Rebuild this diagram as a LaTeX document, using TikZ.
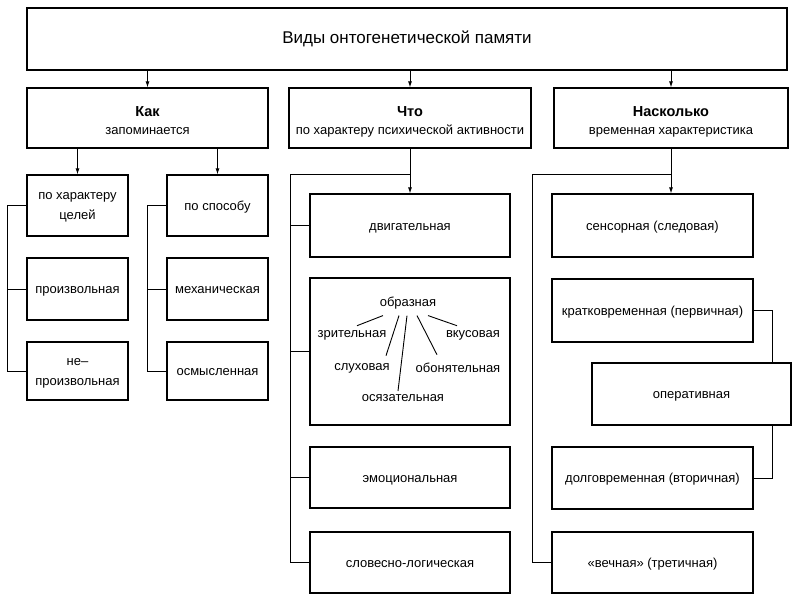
\documentclass[tikz,border=0pt]{standalone}
\usepackage{fontspec}
\setmainfont{Liberation Sans}
\usetikzlibrary{arrows.meta}
\newcommand{\ttlfont}{\fontsize{17}{20}\selectfont}
\newcommand{\hdfont}{\fontsize{14.5}{17}\selectfont\bfseries}
\newcommand{\up}[1]{\rule{0pt}{#1}}
\newcommand{\dn}{\rule[-3pt]{0pt}{3pt}}
\begin{document}
\begin{tikzpicture}[x=1pt, y=-1pt, line width=0.9pt,
    every node/.style={font=\fontsize{13}{16}\selectfont, inner sep=2pt},
    box/.style={draw, line width=1.2pt, align=center, inner sep=0pt},
    tbox/.style={box, text height=12pt, text depth=3pt},
    arr/.style={-{Latex[length=6pt,width=4pt]}}]
    \useasboundingbox (0,0) rectangle (800,600);

% top row
    \node[tbox, minimum width=760pt, minimum height=62pt] (vidy) at (407,39) {\ttlfont Виды онтогенетической памяти};
    \node[box, minimum width=241pt, minimum height=60pt] (kak) at (147.5,118) {{\hdfont\up{18pt}Как}\\[2pt]запоминается\dn};
    \node[box, minimum width=242pt, minimum height=60pt] (chto) at (410,118) {{\hdfont\up{18pt}Что}\\[2pt]по характеру психической активности\dn};
    \node[box, minimum width=234pt, minimum height=60pt] (nask) at (671,118) {{\hdfont\up{18pt}Насколько}\\[2pt]временная характеристика\dn};

    \draw[arr] (vidy.south -| kak.north) -- (kak.north);
    \draw[arr] (vidy.south -| chto.north) -- (chto.north);
    \draw[arr] (vidy.south -| nask.north) -- (nask.north);

% first column
    \coordinate (kL) at (7,205);
    \coordinate (sL) at (147,205);

    \node[box, minimum width=101pt, minimum height=61pt] (celi) at (77.5,205.5) {по характеру\up{11pt}\\[4pt]целей\dn};
    \node[tbox, minimum width=101pt, minimum height=62pt] (proizv) at (77.5,289) {произвольная};
    \node[box, minimum width=101pt, minimum height=58pt] (neproizv) at (77.5,371) {не–\up{11pt}\\[4pt]произвольная\dn};

    \node[tbox, minimum width=101pt, minimum height=61pt] (sposob) at (217.5,205.5) {по способу};
    \node[tbox, minimum width=101pt, minimum height=62pt] (mekh) at (217.5,289) {механическая};
    \node[tbox, minimum width=101pt, minimum height=58pt] (osmysl) at (217.5,371) {осмысленная};

    \draw[arr] (kak.south -| celi.north) -- (celi.north);
    \draw[arr] (kak.south -| sposob.north) -- (sposob.north);

    \draw (celi.west) -- (celi.west -| kL) |- (neproizv.west);
    \draw (proizv.west) -- (proizv.west -| kL);
    \draw (sposob.west) -- (sposob.west -| sL) |- (osmysl.west);
    \draw (mekh.west) -- (mekh.west -| sL);

% second column
    \coordinate (mL) at (290,174);

    \node[tbox, minimum width=200pt, minimum height=63pt] (dvig) at (410,225.5) {двигательная};
    \node[box, minimum width=200pt, minimum height=147pt] (obraz) at (410,351.5) {};
    \node[tbox, minimum width=200pt, minimum height=61pt] (emoc) at (410,477.5) {эмоциональная};
    \node[tbox, minimum width=200pt, minimum height=61pt] (slov) at (410,562.5) {словесно-логическая};

    \draw[arr] (chto.south -| dvig.north) -- (dvig.north);
    \draw (dvig.north |- mL) -- (mL) |- (slov.west);
    \draw (mL |- dvig.west) -- (dvig.west);
    \draw (mL |- obraz.west) -- (obraz.west);
    \draw (mL |- emoc.west) -- (emoc.west);

    \node (obrazn) at (408,303) {образная};
    \node (zrit) at (352,335) {зрительная};
    \node (vkus) at (473,335) {вкусовая};
    \node (sluh) at (362,368) {слуховая};
    \node (obon) at (458,368) {обонятельная};
    \node (osyaz) at (403,398) {осязательная};

    \draw ([xshift=-25pt,yshift=-4pt]obrazn.south) -- ([xshift=5pt,yshift=2pt]zrit.north);
    \draw ([xshift=-9pt,yshift=-4pt]obrazn.south) -- ([xshift=24pt,yshift=5pt]sluh.north);
    \draw ([xshift=-1pt,yshift=-4pt]obrazn.south) -- ([xshift=-5pt,yshift=1pt]osyaz.north);
    \draw ([xshift=9pt,yshift=-4pt]obrazn.south) -- ([xshift=-21pt,yshift=6pt]obon.north);
    \draw ([xshift=20pt,yshift=-4pt]obrazn.south) -- ([xshift=-16pt,yshift=2pt]vkus.north);

% third column
    \coordinate (rL) at (532,174);
    \coordinate (rR) at (772,310);

    \node[tbox, minimum width=201pt, minimum height=63pt] (sens) at (652.5,225.5) {сенсорная (следовая)};
    \node[tbox, minimum width=201pt, minimum height=63pt] (krat) at (652.5,310.5) {кратковременная (первичная)};
    \node[tbox, minimum width=199pt, minimum height=62pt] (oper) at (691.5,394) {оперативная};
    \node[tbox, minimum width=201pt, minimum height=62pt] (dolg) at (652.5,478) {долговременная (вторичная)};
    \node[tbox, minimum width=201pt, minimum height=61pt] (vech) at (652.5,562.5) {«вечная» (третичная)};

    \draw[arr] (nask.south) -- (sens.north -| nask.south);
    \draw (nask.south |- rL) -- (rL) |- (vech.west);
    \draw (krat.east) -| (oper.north -| rR);
    \draw (oper.south -| rR) |- (dolg.east);

\end{tikzpicture}
\end{document}
